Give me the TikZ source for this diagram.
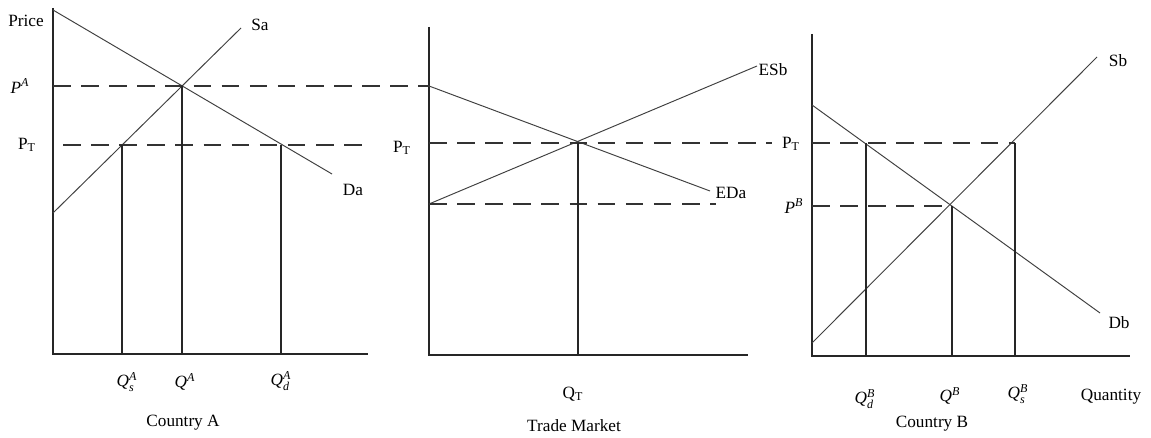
\documentclass[tikz,border=0pt]{standalone}
\usepackage{fontspec}
\setmainfont{Liberation Serif}
\usetikzlibrary{positioning}

\begin{document}
\begin{tikzpicture}[x=0.02cm, y=-0.02cm,
  axis/.style={draw=black!85, line width=0.65pt},
  curve/.style={draw=black!75, line width=0.55pt},
  guide/.style={draw=black!80, line width=0.6pt, dash pattern=on 10pt off 6pt},
  drop/.style={draw=black!85, line width=0.6pt},
  lbl/.style={inner sep=0pt, font=\fontsize{9.8}{12}\selectfont}]

\useasboundingbox (0,0) rectangle (1151,438);

% Country A
\coordinate (A0) at (53,354);
\coordinate (Atop) at (53,8);
\coordinate (Aright) at (368,354);
\coordinate (Da1) at (53,10);
\coordinate (Da2) at (332,174);
\coordinate (Sa1) at (53,213);
\coordinate (Sa2) at (241,28);
\coordinate (EA) at (182,86);
\coordinate (PTa1) at (63,145);
\coordinate (PTa2) at (368,145);
\coordinate (QsA) at (122,145);
\coordinate (QdA) at (281,145);

% Trade market
\coordinate (T0) at (429,355);
\coordinate (Ttop) at (429,27);
\coordinate (Tright) at (748,355);
\coordinate (EDa1) at (429,86);
\coordinate (EDa2) at (710,191);
\coordinate (ESb1) at (429,204);
\coordinate (ESb2) at (757,66);
\coordinate (ET) at (578,143);
\coordinate (PTt2) at (772,143);
\coordinate (Low2) at (716,204);

% Country B
\coordinate (B0) at (812,356);
\coordinate (Btop) at (812,34);
\coordinate (Bright) at (1130,356);
\coordinate (Db1) at (812,105);
\coordinate (Db2) at (1100,313);
\coordinate (Sb1) at (812,343);
\coordinate (Sb2) at (1097,57);
\coordinate (EB) at (952,206);
\coordinate (QdB) at (866,143);
\coordinate (QsB) at (1015,143);

% axes
\draw[axis] (Atop) -- (A0) -- (Aright);
\draw[axis] (Ttop) -- (T0) -- (Tright);
\draw[axis] (Btop) -- (B0) -- (Bright);

% curves
\draw[curve] (Da1) -- (Da2);
\draw[curve] (Sa1) -- (Sa2);
\draw[curve] (EDa1) -- (EDa2);
\draw[curve] (ESb1) -- (ESb2);
\draw[curve] (Db1) -- (Db2);
\draw[curve] (Sb1) -- (Sb2);

% price lines
\draw[guide] (Atop |- EA) -- (EDa1);
\draw[guide] (PTa1) -- (PTa2);
\draw[guide] (T0 |- ET) -- (PTt2);
\draw[guide] (ESb1) -- (Low2);
\draw[guide] (Btop |- QdB) -- (QsB);
\draw[guide] (Btop |- EB) -- (EB);

% quantity drops
\draw[drop] (QsA) -- (QsA |- A0);
\draw[drop] (EA) -- (EA |- A0);
\draw[drop] (QdA) -- (QdA |- A0);
\draw[drop] (ET) -- (ET |- T0);
\draw[drop] (QdB) -- (QdB |- B0);
\draw[drop] (EB) -- (EB |- B0);
\draw[drop] (QsB) -- (QsB |- B0);

% labels, Country A
\node[lbl] (price) at (26,21) {Price};
\node[lbl] (pa) at (20,86) {$\mathit{P}^{\mathit{A}}$};
\node[lbl] (pta) at (27,145) {P$_{\mathrm{T}}$};
\node[lbl] (sa) at (260,25) {Sa};
\node[lbl] (da) at (353,190) {Da};
\node[lbl] (qsa) at (127,382) {$\mathit{Q}_{\mathit{s}}^{\mathit{A}}$};
\node[lbl] (qa) at (185,382) {$\mathit{Q}^{\mathit{A}}$};
\node[lbl] (qda) at (281,381) {$\mathit{Q}_{\mathit{d}}^{\mathit{A}}$};
\node[lbl] (ctya) at (183,423) {Country A};

% labels, trade market
\node[lbl] (ptt) at (402,148) {P$_{\mathrm{T}}$};
\node[lbl] (esb) at (773,70) {ESb};
\node[lbl] (eda) at (731,193) {EDa};
\node[lbl] (qt) at (573,394) {Q$_{\mathrm{T}}$};
\node[lbl] (trade) at (574,426) {Trade Market};

% labels, Country B
\node[lbl] (ptb) at (791,144) {P$_{\mathrm{T}}$};
\node[lbl] (pb) at (794,206) {$\mathit{P}^{\mathit{B}}$};
\node[lbl] (sb) at (1118,61) {Sb};
\node[lbl] (db) at (1119,323) {Db};
\node[lbl] (qdb) at (865,399) {$\mathit{Q}_{\mathit{d}}^{\mathit{B}}$};
\node[lbl] (qb) at (950,396) {$\mathit{Q}^{\mathit{B}}$};
\node[lbl] (qsb) at (1018,394) {$\mathit{Q}_{\mathit{s}}^{\mathit{B}}$};
\node[lbl] (qty) at (1111,397) {Quantity};
\node[lbl] (ctyb) at (932,424) {Country B};

\end{tikzpicture}
\end{document}
